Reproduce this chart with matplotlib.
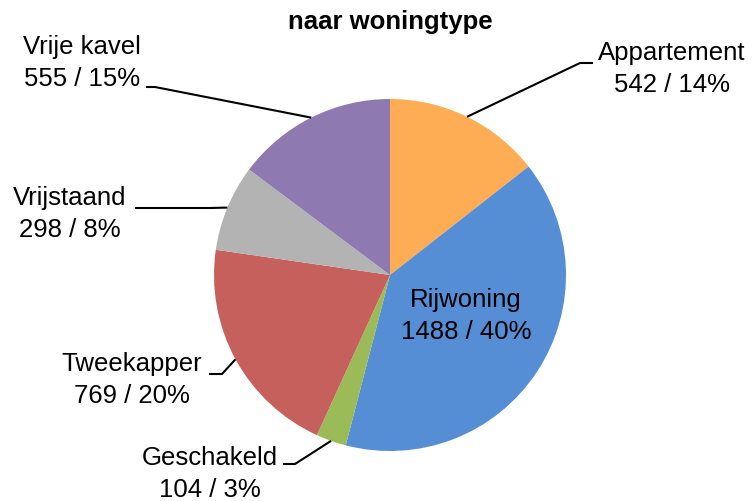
import numpy as np
import matplotlib
matplotlib.use('Agg')
import matplotlib.pyplot as plt

plt.rcParams['font.family'] = ['Liberation Sans', 'DejaVu Sans']

# Data
categories = ['Appartement', 'Rijwoning', 'Geschakeld', 'Tweekapper', 'Vrijstaand', 'Vrije kavel']
counts = [542, 1488, 104, 769, 298, 555]
colors = ['#FFAD55', '#558ED5', '#9BBB59', '#C6605D', '#B3B3B3', '#8E7AB0']

# Layout (pixel coords, y measured from top)
W, H = 753, 501
cx, cy, R = 390, 275, 176
# label text center, elbow point, line end (horizontal tail)
label_pos = {
    'Appartement': ((672, 69), (580, 63), (593, 63)),
    'Vrije kavel': ((82, 63), (155, 87), (146, 87)),
    'Vrijstaand': ((70, 214), (210, 208), (135, 208)),
    'Tweekapper': ((132, 380), (222, 374), (209, 374)),
    'Geschakeld': ((210, 474), (295, 464), (283, 464)),
}

fig = plt.figure(figsize=(W / 100, H / 100), dpi=100)
ax = fig.add_axes([0, 0, 1, 1])

wedges, _ = ax.pie(counts, colors=colors, startangle=90, counterclock=False,
                   center=(cx, H - cy), radius=R, frame=True)
ax.set_xlim(0, W)
ax.set_ylim(0, H)
ax.set_aspect('equal')
ax.axis('off')

total = sum(counts)
fs = 18.5
ls = 1.42
for w, name, n in zip(wedges, categories, counts):
    pct = round(100 * n / total)
    txt = f'{name}\n{n} / {pct}%'
    ang = np.deg2rad((w.theta1 + w.theta2) / 2)
    if name == 'Rijwoning':
        ax.text(466, H - 316, txt, ha='center', va='center', fontsize=fs, linespacing=ls)
        continue
    (tx, ty), (ex, ey), (lx, ly) = label_pos[name]
    sx = cx + R * np.cos(ang)
    sy = (H - cy) + R * np.sin(ang)
    ax.plot([sx, ex, lx], [sy, H - ey, H - ly], color='black', lw=1.5,
            solid_capstyle='butt')
    ax.text(tx, H - ty, txt, ha='center', va='center', fontsize=fs, linespacing=ls)

ax.text(390, H - 22, 'naar woningtype', ha='center', va='center',
        fontsize=18.5, fontweight='bold')

fig.savefig('out.png', dpi=100)
